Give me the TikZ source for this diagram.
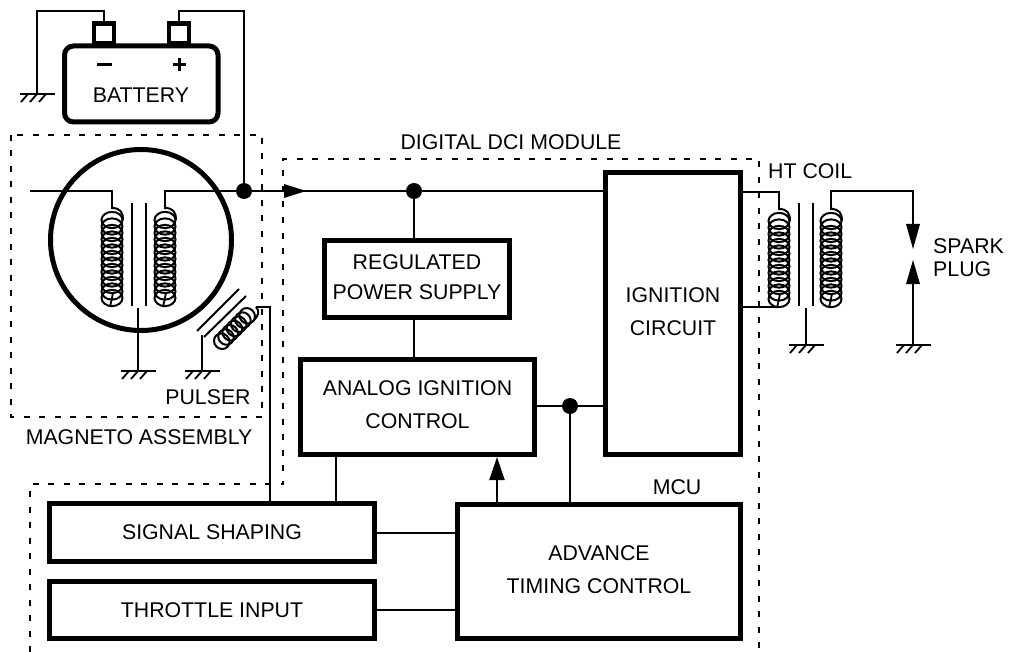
\documentclass[tikz,border=0pt]{standalone}
\usepackage{fontspec}
\setmainfont{Liberation Sans}
\usetikzlibrary{arrows.meta}
\newcommand{\upshift}{\rule[-4pt]{0pt}{0pt}}
\tikzset{
  x=1pt,y=-1pt,
  wire/.style={line width=2pt,line join=miter},
  thick box/.style={draw=black,line width=5pt,fill=white,inner sep=0pt,align=center,font=\fontsize{21.3}{33}\selectfont},
  lbl/.style={inner sep=0pt,font=\fontsize{21.3}{24}\selectfont},
  dashbox/.style={line width=1.1pt,dash pattern=on 6pt off 9.5pt},
  dotj/.style={circle,fill=black,inner sep=0pt,minimum size=16pt},
  tip/.style={-{Triangle[length=23pt,width=15pt]}},
  gnd/.pic={
    \draw[line width=2.2pt] (-17,0) -- (18,0);
    \foreach \d in {-9,0,9} \draw[line width=1.8pt] (\d,0) -- (\d-7,8);
  },
  coil/.pic={
    \draw[line width=2pt] (0,0) -- (0,3) .. controls (8,3) and (11,7) .. (11,15);
    \foreach \i in {0,...,12} \draw[line width=2pt] (0,15+6.5*\i) ellipse [x radius=10.5,y radius=8.125];
    \draw[line width=1.8pt] (1,88) -- (-2,102);
  },
  pcoil/.pic={
    \draw[line width=2pt] (0,-5) .. controls (6,-5) and (8,0) .. (8,7);
    \foreach \i in {0,...,6} \draw[line width=2pt] (0,7.5+6*\i) ellipse [x radius=8,y radius=7.5];
  },
}
\begin{document}
\begin{tikzpicture}
\useasboundingbox (0,0) rectangle (1016,652);
% dashed enclosures
\draw[dashbox] (11,135) rectangle (262,417);
\draw[dashbox] (30,652) -- (30,484) -- (283,484) -- (283,159) -- (759,159) -- (759,652);
% battery
\node[thick box,rounded corners=9pt,minimum width=153.5pt,minimum height=76pt] (bat) at (141.25,84) {};
\node[draw,line width=4.5pt,fill=white,minimum width=20pt,minimum height=20pt,inner sep=0pt,anchor=south] (neg) at (104,46) {};
\node[draw,line width=4.5pt,fill=white,minimum width=20pt,minimum height=20pt,inner sep=0pt,anchor=south] (pos) at (179,46) {};
\node[thick box,draw=none,fill=none] (battxt) at (141,95) {BATTERY};
\node[inner sep=0pt] (minus) at (104,65) {\rule{15pt}{3pt}};
\node[inner sep=0pt] (plus) at (179,65) {\rule{13pt}{3pt}\llap{\rule[-5pt]{3pt}{13pt}\kern5pt}};
\coordinate (gbat) at (37,94);
\coordinate (tn) at (104,11);
\coordinate (tp) at (178,11);
\coordinate (j1) at (244,191);
\draw[wire] (neg.north) -- (tn) -- (tn -| gbat) -- (gbat);
\draw[wire] (pos.north) -- (pos.north |- tp) -- (tp -| j1) -- (j1);
\pic at (gbat) {gnd};
% magneto
\node[circle,draw,line width=5pt,minimum size=181pt,inner sep=0pt] (mag) at (141,240) {};
\pic at (112,205) {coil};
\pic at (165,205) {coil};
\coordinate (mL) at (30,191);
\coordinate (c1t) at (112,205);
\coordinate (c2t) at (165,205);
\draw[wire] (mL) -- (mL -| c1t) -- (c1t);
\draw[wire] (c2t) -- (c2t |- j1) -- (j1);
\draw[wire] (132,203) -- (132,306);
\draw[wire] (146,203) -- (146,306);
\coordinate (gm) at (138,371);
\draw[wire] (138,308) -- (gm);
\pic at (gm) {gnd};
% pulser
\draw[wire] (197,331) -- (239,289);
\draw[wire] (204,337) -- (246,296);
\coordinate (gp) at (202,371);
\draw[wire] (202,335) -- (gp);
\pic at (gp) {gnd};
\pic[rotate=-45] at (252.5,310.5) {pcoil};
% labels
\node[lbl] (tp1) at (208,397) {PULSER};
\node[lbl] (tm) at (139,437) {MAGNETO ASSEMBLY};
\node[lbl] (td) at (511,142) {DIGITAL DCI MODULE};
\node[lbl,anchor=west] (tht) at (768,171) {HT COIL};
\node[lbl,anchor=west,align=left,font=\fontsize{21.3}{23}\selectfont] (tsp) at (933,258) {SPARK\\PLUG};
\node[lbl] (tmcu) at (677,487) {MCU};
% blocks
\node[thick box,minimum width=185pt,minimum height=77pt,font=\fontsize{21.3}{30}\selectfont] (reg) at (417,279) {REGULATED\\POWER SUPPLY\upshift};
\node[thick box,minimum width=234pt,minimum height=95pt] (ana) at (417.5,407) {ANALOG IGNITION\\CONTROL\upshift};
\node[thick box,minimum width=135pt,minimum height=282pt] (ign) at (673,313.5) {IGNITION\\CIRCUIT\upshift};
\node[thick box,minimum width=283pt,minimum height=134pt] (adv) at (599,571.5) {ADVANCE\\TIMING CONTROL\upshift};
\node[thick box,minimum width=325pt,minimum height=58pt] (sig) at (212,532.5) {SIGNAL SHAPING};
\node[thick box,minimum width=325pt,minimum height=57.5pt] (thr) at (212,610) {THROTTLE INPUT};
% junctions
\node[dotj] (j1d) at (j1) {};
\node[dotj] (j2) at (414,191) {};
\node[dotj] (j3) at (570,406) {};
% main line
\draw[wire] (j1d) -- (j2);
\draw[wire] (j2) -- (j2 -| ign.west);
\fill (284,184) -- (306,191) -- (284,198) -- cycle;
\draw[wire] (j2) -- (j2 |- reg.north);
\draw[wire] (j2 |- reg.south) -- (j2 |- ana.north);
\draw[wire] (j3 -| ana.east) -- (j3);
\draw[wire] (j3) -- (j3 -| ign.west);
\draw[wire] (j3) -- (j3 |- adv.north);
\draw[wire,tip] (497,502) -- (497,457);
\draw[wire] (336,457) -- (336,502);
\draw[wire] (sig.east) -- (sig.east -| adv.west);
\draw[wire] (thr.east) -- (thr.east -| adv.west);
% pulser lead
\draw[wire] (256,307) -- (270,307) -- (270,502);
% HT coil
\coordinate (h1) at (779,206);
\coordinate (h2) at (831,206);
\coordinate (sp) at (913,191);
\coordinate (gs) at (913,345);
\coordinate (gh) at (806,345);
\pic at (h1) {coil};
\pic at (h2) {coil};
\draw[wire] (743,192) -- (779,192) -- (h1);
\draw[wire] (743,307) -- (778,307);
\draw[wire] (h2) -- (h2 |- sp) -- (sp) -- (913,226);
\fill (906,224) -- (920,224) -- (913,249) -- cycle;
\fill (906,284) -- (920,284) -- (913,260) -- cycle;
\draw[wire] (913,282) -- (gs);
\pic at (gs) {gnd};
\draw[wire] (799,203) -- (799,306);
\draw[wire] (813,203) -- (813,306);
\draw[wire] (806,308) -- (gh);
\pic at (gh) {gnd};
\end{tikzpicture}
\end{document}
